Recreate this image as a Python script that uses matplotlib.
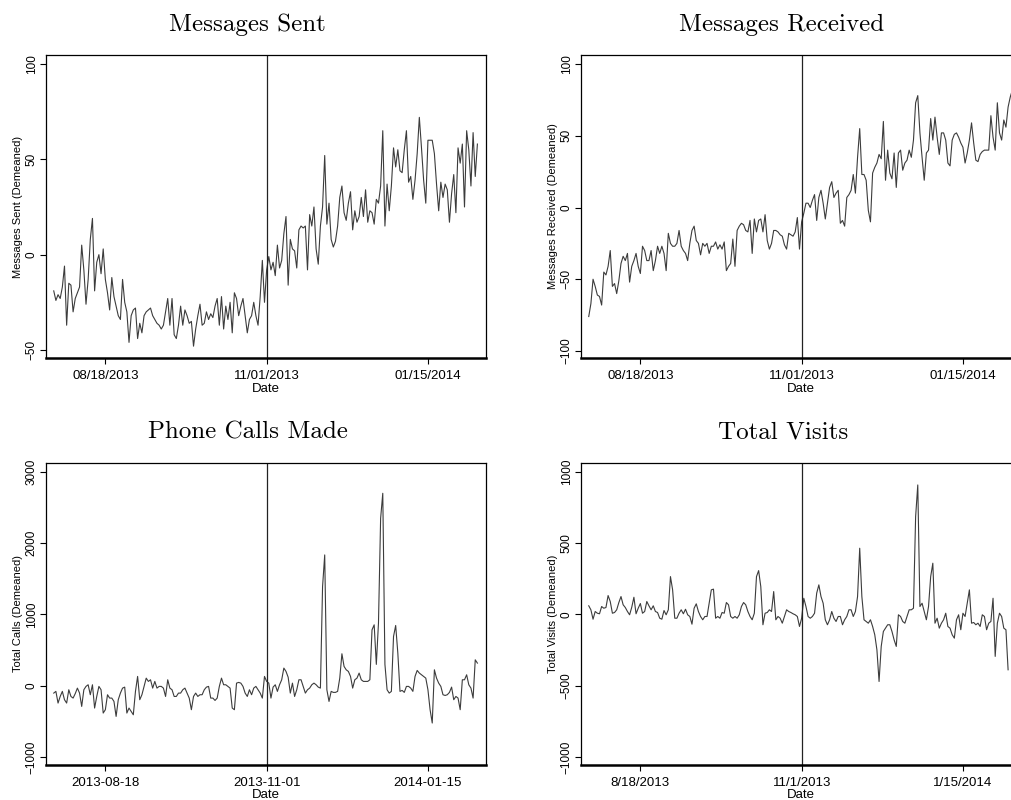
import matplotlib
matplotlib.use("Agg")
import matplotlib.pyplot as plt
import matplotlib.dates as mdates
import numpy as np
import pandas as pd

# daily series, 2013-07-25 onwards (demeaned)
start = "2013-07-25"
cutoff = "2013-11-01"
tick_dates = ["2013-08-18", "2013-11-01", "2014-01-15"]

sent = [-19, -24, -21, -23, -17, -6, -37, -15, -16, -30,
        -23, -20, -17, 5, -8, -26, -13, 8, 19, -19,
        -4, 0, -10, 3, -13, -20, -29, -12, -22, -27,
        -32, -34, -13, -25, -30, -46, -32, -29, -28, -44,
        -36, -41, -32, -30, -29, -28, -32, -34, -36, -37,
        -39, -37, -30, -23, -37, -23, -42, -44, -37, -27,
        -37, -29, -32, -36, -35, -48, -39, -32, -26, -37,
        -36, -30, -34, -31, -33, -27, -23, -37, -22, -39,
        -27, -34, -25, -41, -20, -23, -32, -27, -23, -32,
        -41, -34, -32, -25, -32, -37, -22, -3, -25, -8,
        -1, -8, -4, -11, 5, -7, -3, 11, 20, -16,
        8, 3, 2, -7, 13, 15, 14, 15, -8, 21,
        15, 25, 3, -5, 15, 25, 52, 16, 27, 8,
        4, 7, 15, 30, 36, 22, 18, 27, 33, 13,
        23, 17, 20, 30, 20, 34, 17, 23, 22, 16,
        29, 27, 36, 65, 15, 37, 23, 36, 56, 46,
        55, 44, 43, 55, 65, 38, 41, 29, 39, 53,
        72, 56, 39, 27, 60, 60, 60, 53, 37, 23,
        38, 30, 37, 34, 17, 32, 42, 22, 56, 48,
        58, 25, 65, 55, 36, 64, 41, 58]

received = [-76, -67, -50, -55, -61, -62, -68, -45, -47, -41,
            -30, -55, -53, -60, -51, -39, -34, -37, -32, -52,
            -41, -37, -32, -41, -46, -27, -30, -37, -37, -30,
            -44, -37, -27, -32, -27, -32, -44, -18, -25, -27,
            -27, -25, -16, -27, -30, -32, -37, -25, -16, -13,
            -23, -25, -33, -25, -27, -25, -32, -27, -27, -24,
            -29, -26, -29, -24, -44, -41, -39, -22, -41, -16,
            -13, -11, -12, -16, -17, -9, -32, -8, -17, -9,
            -8, -17, -5, -23, -29, -25, -16, -16, -17, -19,
            -20, -26, -29, -18, -19, -20, -17, -7, -29, -10,
            -4, 3, 3, 0, 5, 9, -9, 7, 12, 3,
            -8, 3, 14, 18, 7, 10, 12, -11, -9, -13,
            7, 9, 12, 23, 10, 35, 55, 23, 23, 19,
            -2, -10, 24, 28, 31, 37, 34, 60, 19, 40,
            24, 20, 38, 14, 38, 40, 26, 31, 33, 40,
            35, 47, 73, 78, 52, 35, 19, 38, 40, 62,
            47, 63, 49, 37, 52, 52, 47, 31, 29, 47,
            51, 52, 49, 45, 42, 31, 38, 47, 59, 45,
            33, 32, 37, 39, 40, 40, 40, 64, 49, 40,
            73, 52, 47, 61, 56, 70, 77, 82]

calls = [-103, -79, -243, -150, -79, -196, -243, -56, -150, -173,
         -110, -33, -103, -290, -56, -9, 14, -126, 14, -313,
         -150, -9, -56, -383, -336, -126, -173, -173, -220, -430,
         -196, -103, -33, -19, -383, -313, -360, -407, -79, 131,
         -196, -126, -9, 107, 61, 84, -33, 61, -33, -9,
         -9, -33, -150, 84, -33, -56, -150, -150, -103, -103,
         -56, -33, -103, -173, -336, -150, -103, -150, -126, -126,
         -56, -19, -9, -173, -173, -206, -173, -9, 107, 14,
         14, -9, -33, -313, -336, 37, 47, 37, -9, -103,
         -150, -56, -126, -33, -9, -56, -103, -173, 131, 61,
         37, -173, -19, 14, -79, 14, 84, 248, 201, 120,
         -103, 37, -150, -56, 84, 84, -9, -103, -56, -33,
         14, 37, 14, -19, -33, 1390, 1836, -56, -220, -79,
         -93, -93, -79, 107, 449, 271, 224, 201, 131, -33,
         84, 107, 178, 84, 61, 61, 61, 84, 785, 855,
         300, 879, 2350, 2701, 300, -56, -103, -79, 692, 846,
         458, -79, -65, -93, -9, -9, -33, -79, 131, 215,
         178, 154, 131, 107, -56, -336, -523, 224, 107, 37,
         -9, -126, -136, -126, -93, -19, -196, -150, -173, -336,
         84, 84, 154, 14, -33, -173, 364, 318]

visits = [61, 33, -33, 21, 9, 5, 56, 44, 49, 133,
          91, 9, 14, 33, 84, 126, 68, 49, 21, -2,
          51, 121, 5, 44, 77, 9, 21, 91, 61, 33,
          61, 21, 14, -26, -33, 28, -2, 33, 266, 173,
          -26, -26, 9, 33, 5, 37, -2, -14, -68, 44,
          75, 21, -14, -37, -14, -14, 79, 173, 178, -26,
          -14, -26, 14, 9, 84, 68, -14, -26, -14, -26,
          -2, 56, 84, 68, 21, -14, -37, 9, 266, 308,
          196, -72, 9, 14, 33, 21, 161, -37, -14, -26,
          -61, -14, 33, 21, 14, 5, -2, -14, -84, -26,
          114, 56, -14, -26, -14, 9, 150, 208, 126, 79,
          -37, -72, -37, 21, -26, -49, -14, -14, -72, -37,
          -14, 33, 33, -14, 21, 126, 465, 126, -37, -49,
          -61, -37, -84, -142, -248, -470, -224, -119, -96, -72,
          -72, -119, -178, -224, -2, -14, -49, -61, -14, 33,
          33, 44, 687, 909, 56, 79, 21, -37, 56, 266,
          360, -61, -26, -96, -61, -37, 9, -84, -96, -142,
          -166, -37, -2, -107, 9, -14, 79, 173, -61, -56,
          -72, -61, -84, -2, -14, -107, -61, -49, 114, -294,
          -61, 9, -14, -96, -107, -388]

titles = ["Messages Sent", "Messages Received", "Phone Calls Made", "Total Visits"]
ylabels = ["Messages Sent (Demeaned)", "Messages Received (Demeaned)",
           "Total Calls (Demeaned)", "Total Visits (Demeaned)"]
date_fmts = ["%m/%d/%Y", "%m/%d/%Y", "%Y-%m-%d", "us"]
yticks = [[-50, 0, 50, 100], [-100, -50, 0, 50, 100],
          [-1000, 0, 1000, 2000, 3000], [-1000, -500, 0, 500, 1000]]
ylims = [(-54.2, 104.7), (-104.9, 106.3), (-1112, 3126), (-1056, 1063)]
series = [sent, received, calls, visits]

W, H = 1011, 800
fig = plt.figure(figsize=(W / 100, H / 100), dpi=100)

# panel boxes in pixels: left, top, right, bottom
boxes = [(46, 55, 486, 358), (581, 55, 1021, 358),
         (46, 463, 486, 765), (581, 463, 1021, 765)]
title_pos = [(247, 25), (782, 25), (248, 432), (783, 432)]

x0 = pd.Timestamp(start)
for i in range(4):
    l, t, r, b = boxes[i]
    ax = fig.add_axes([l / W, 1 - b / H, (r - l) / W, (b - t) / H])
    vals = series[i]
    dates = pd.date_range(start, periods=len(vals), freq="D")
    ax.plot(dates, vals, color="#3c3c3c", lw=0.8)
    ax.axvline(pd.Timestamp(cutoff), color="#222222", lw=0.9)

    ax.set_xlim(x0 - pd.Timedelta(days=3.6), x0 + pd.Timedelta(days=201))
    ax.set_ylim(*ylims[i])
    ax.set_yticks(yticks[i])
    ax.set_xticks([pd.Timestamp(d) for d in tick_dates])
    if date_fmts[i] == "us":
        ax.set_xticklabels(["8/18/2013", "11/1/2013", "1/15/2014"])
    else:
        ax.xaxis.set_major_formatter(mdates.DateFormatter(date_fmts[i]))

    ax.tick_params(axis="x", length=4, width=0.8, pad=4.5, labelsize=9.5)
    ax.tick_params(axis="y", length=4, width=0.8, pad=2, labelsize=8.5,
                   labelrotation=90)
    for lab in ax.get_yticklabels():
        lab.set_va("center")
    for lab in ax.get_xticklabels() + ax.get_yticklabels():
        lab.set_family("Liberation Sans")

    for s in ["left", "top", "right"]:
        ax.spines[s].set_linewidth(0.9)
    ax.spines["bottom"].set_linewidth(1.8)

    ax.set_ylabel(ylabels[i], fontsize=8, family="Liberation Sans", labelpad=2)
    ax.set_xlabel("Date", fontsize=9.5, family="Liberation Sans", labelpad=0.5)

    tx, ty = title_pos[i]
    fig.text(tx / W, 1 - ty / H, titles[i], ha="center", va="center",
             fontsize=18, family="cmr10")

fig.savefig("out.png", dpi=100)
